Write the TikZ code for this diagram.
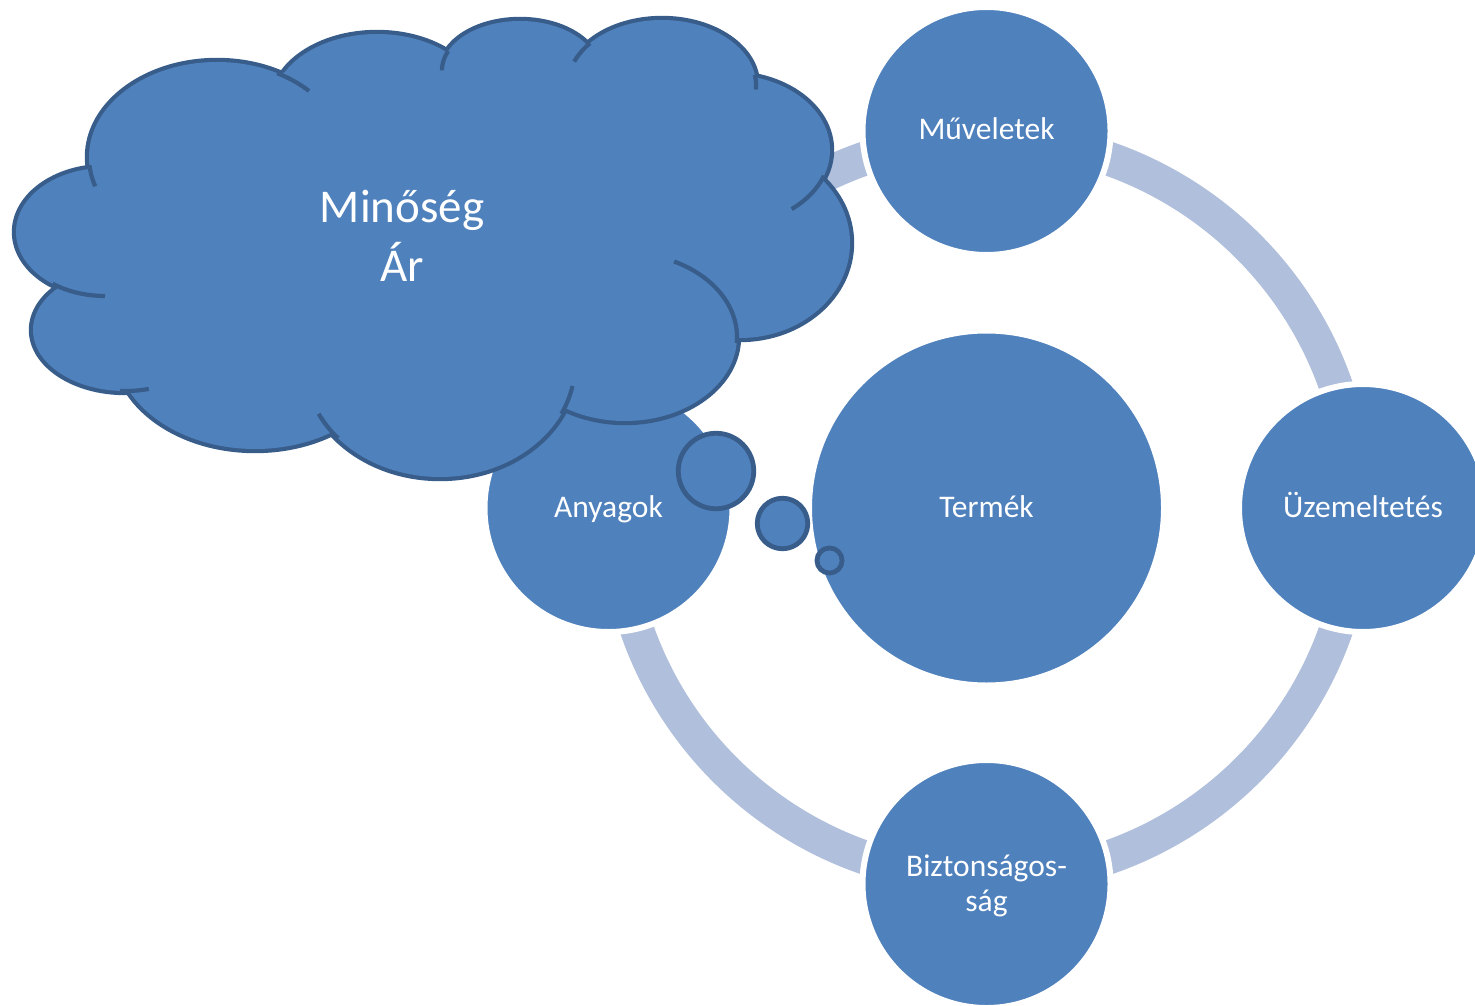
\documentclass[tikz,border=0pt]{standalone}
\usepackage{fontspec}
\setmainfont{Carlito}
\definecolor{accent}{HTML}{4F81BD}
\definecolor{cloudline}{HTML}{385D8A}
\definecolor{ringcol}{HTML}{B0BFDB}
\begin{document}
\begin{tikzpicture}[x=0.5pt,y=-0.5pt,
  bubble/.style={circle, fill=accent, draw=white, line width=3pt, minimum size=124pt, inner sep=0pt,
    text=white, font=\fontsize{15.75pt}{17.5pt}\selectfont, text height=9pt, text depth=0pt},
  lbl/.style={text=white, font=\fontsize{15.75pt}{17.5pt}\selectfont, align=center, inner sep=0pt},
  thought/.style={circle, fill=accent, draw=cloudline, line width=2.4pt, inner sep=0pt},
  cloudedge/.style={draw=cloudline, line width=4.2pt},
  stub/.style={draw=cloudline, line width=2.1pt},
  cloudtext/.style={text=white, font=\fontsize{23.5pt}{29.5pt}\selectfont, align=center, inner sep=0pt}]
\useasboundingbox (0,0) rectangle (1475,1005);
\clip (0,0) rectangle (1475,1005);

% ring
\draw[ringcol, line width=17pt] (986.5,508) circle[radius=370];

% circles
\node[bubble] (mu) at (986.5,131) {Műveletek};
\node[bubble] (uz) at (1363,508) {Üzemeltetés};
\node[bubble] (bi) at (986.5,884) {};
\node[lbl] (bitxt) at (986.5,886) {Biztonságos-\\ság};
\node[bubble] (an) at (608.5,508) {Anyagok};
\node[bubble, minimum size=177.5pt] (te) at (986.5,508) {Termék};

% cloud: outline (outer half of strokes), then fill
\foreach \cx/\cy/\rx/\ry in {217/157/128/95, 377/104/103.5/70, 520/70.4/78/49.4, 662/85/94/65,
   730/150/100/75, 740/243/110/95, 625/337/112/84, 440/364.5/135/112.5, 255/346.7/139.5/102.3,
   125/330/92/61, 105/232/89/64}
  \draw[cloudedge] (\cx,\cy) ellipse[x radius=\rx, y radius=\ry];
\fill[accent] (90,172) -- (285,72) -- (447,53) -- (590,47) -- (757,77) -- (822,182) -- (737,338)
   -- (565,407) -- (332,432) -- (128,389) -- (58,287) -- cycle;
\foreach \cx/\cy/\rx/\ry in {217/157/128/95, 377/104/103.5/70, 520/70.4/78/49.4, 662/85/94/65,
   730/150/100/75, 740/243/110/95, 625/337/112/84, 440/364.5/135/112.5, 255/346.7/139.5/102.3,
   125/330/92/61, 105/232/89/64}
  \fill[accent] (\cx,\cy) ellipse[x radius=\rx, y radius=\ry];

% inner stubs of the cloud
\draw[stub] plot[domain=-62:-44, samples=20] ({217+128*cos(\x)},{157+95*sin(\x)});
\draw[stub] plot[domain=203:180, samples=20] ({520+78*cos(\x)},{70.4+49.4*sin(\x)});
\draw[stub] plot[domain=220:201, samples=20] ({662+94*cos(\x)},{85+65*sin(\x)});
\draw[stub] plot[domain=-9:4, samples=20] ({662+94*cos(\x)},{85+65*sin(\x)});
\draw[stub] plot[domain=20:52, samples=20] ({730+100*cos(\x)},{150+75*sin(\x)});
\draw[stub] plot[domain=4:-64, samples=30] ({625+112*cos(\x)},{337+84*sin(\x)});
\draw[stub] plot[domain=26:11, samples=20] ({440+135*cos(\x)},{364.5+112.5*sin(\x)});
\draw[stub] plot[domain=139:154, samples=20] ({440+135*cos(\x)},{364.5+112.5*sin(\x)});
\draw[stub] plot[domain=93:75, samples=20] ({125+92*cos(\x)},{330+61*sin(\x)});
\draw[stub] plot[domain=126:90, samples=20] ({105+89*cos(\x)},{232+64*sin(\x)});
\draw[stub] plot[domain=175:162, samples=20] ({217+128*cos(\x)},{157+95*sin(\x)});

\node[cloudtext] (q) at (402,236) {Minőség\\Ár};

% thought bubbles
\node[thought, minimum size=37.75pt] (t1) at (716,471) {};
\node[thought, minimum size=25.25pt] (t2) at (782.5,523.5) {};
\node[thought, minimum size=12.55pt] (t3) at (829.5,560.5) {};
\end{tikzpicture}
\end{document}
